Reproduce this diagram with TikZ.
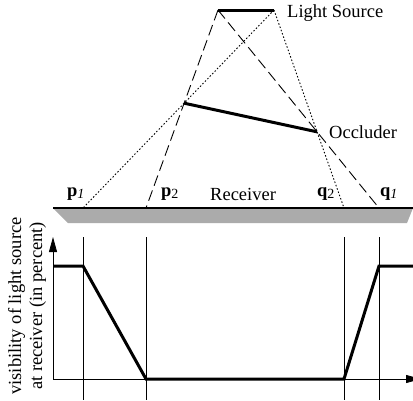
\documentclass[tikz,border=0pt]{standalone}
\usepackage{fontspec}
\setmainfont{Liberation Serif}
\usetikzlibrary{arrows.meta}
\newcommand{\lowidx}[1]{\raisebox{-0.28ex}{\fontsize{14}{14}\selectfont #1}}

\begin{document}
\begin{tikzpicture}[x=1pt,y=-1pt,>={Triangle[length=15pt,width=8pt]},
    lbl/.style={inner sep=0pt,anchor=base west,font=\fontsize{18.5}{21}\selectfont},
    solid/.style={line width=3pt},
    guide/.style={line width=0.8pt},
    umbra/.style={line width=0.9pt,dash pattern=on 11pt off 5pt},
    penumbra/.style={line width=0.9pt,dash pattern=on 1.5pt off 2pt}]
    \clip (0,0) rectangle (413,400);
    % light source, receiver points and occluder
    \coordinate (lsA) at (218,10);
    \coordinate (lsB) at (274,10);
    \coordinate (rcvL) at (53,208);
    \coordinate (rcvR) at (413,208);
    \coordinate (p1) at (83,208);
    \coordinate (p2) at (146,208);
    \coordinate (q2) at (344,208);
    \coordinate (q1) at (379,208);
    \coordinate (occA) at (intersection of lsA--p2 and lsB--p1);
    \coordinate (occB) at (intersection of lsA--q1 and lsB--q2);
    \fill[black!33] (rcvL) -- (rcvR) -- (407,223) -- (68,223) -- cycle;
    \draw[line width=2.5pt] (rcvL) -- (rcvR);
    \draw[umbra] (lsA) -- (p2);
    \draw[umbra] (lsA) -- (q1);
    \draw[penumbra] (lsB) -- (p1);
    \draw[penumbra] (lsB) -- (q2);
    \draw[solid] (lsA) -- (lsB);
    \draw[solid] (occA) -- (occB);
    \node[lbl] (lightlbl) at (287,17) {Light Source};
    \node[lbl] (occlbl) at (329,138) {Occluder};
    \node[lbl] (rcvlbl) at (210,200) {Receiver};
    \node[lbl] (p1lbl) at (67,196) {\textbf{p}\lowidx{\textit{1}}};
    \node[lbl] (p2lbl) at (161,196) {\textbf{p}\lowidx{2}};
    \node[lbl] (q2lbl) at (317,196) {\textbf{q}\lowidx{2}};
    \node[lbl] (q1lbl) at (380,196) {\textbf{q}\lowidx{\textit{1}}};
    % visibility plot
    \coordinate (orig) at (53,379);
    \draw[guide,->] (orig) -- (53,237);
    \draw[guide,->] (orig) -- (421,379);
    \foreach \x in {83,146,344,379}
      \draw[guide] (\x,237) -- (\x,400);
    \draw[solid] (53,266) -- (83,266) -- (146,379) -- (344,379) -- (379,266) -- (413,266);
    \node[lbl,anchor=center,align=center,rotate=90] (ylbl) at (27,306)
      {visibility of light source\\at receiver (in percent)};
  \end{tikzpicture}
\end{document}
